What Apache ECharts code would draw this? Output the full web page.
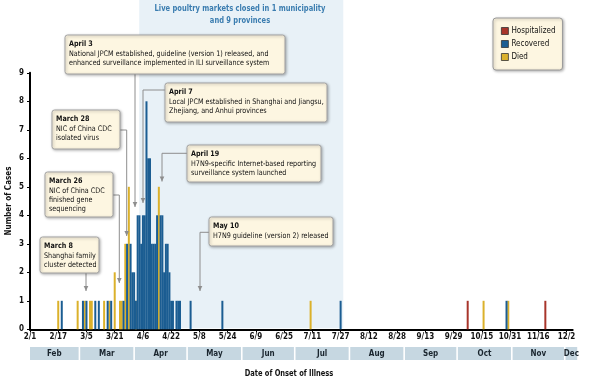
<!DOCTYPE html>
<html><head><meta charset="utf-8">
<script src="https://cdn.jsdelivr.net/npm/echarts/dist/echarts.min.js"></script>
<style>html,body{margin:0;padding:0;background:#fff}#main{width:601px;height:380px}</style>
</head><body><div id="main"></div>
<script>
// ---------- data ----------
const tickLabels = ['2/1','2/17','3/5','3/21','4/6','4/22','5/8','5/24','6/9','6/25','7/11','7/27','8/12','8/28','9/13','9/29','10/15','10/31','11/16','12/2'];
const tickDays = [0,16,32,48,64,80,96,112,128,144,160,176,192,208,224,240,256,272,288,304];
const months = ['Feb','Mar','Apr','May','Jun','Jul','Aug','Sep','Oct','Nov','Dec'];
const monthStartDays = [0,28,59,89,120,150,181,212,242,273,303,310.5];
// day index: 0 = Feb 1, 2013
const diedDays   = [16,27,31,34,35,42,45,48,51,52,54,56,60,73,159,257,271];
const diedCounts = [ 1, 1, 1, 1, 1, 1, 1, 2, 1, 1, 3, 5, 1, 5,  1,  1,  1];
const recoveredDays   = [18,30,32,37,39,44,46,53,55,57,58,59,60,61,62,63,64,65,66,67,68,69,70,71,72,74,75,76,77,78,79,80,81,83,84,85,91,109,176,270];
const recoveredCounts = [ 1, 1, 1, 1, 1, 1, 1, 1, 3, 3, 2, 2, 1, 4, 4, 3, 4, 4, 8, 6, 6, 3, 3, 3, 4, 4, 4, 2, 3, 3, 2, 1, 1, 1, 1, 1, 1,  1,  1,  1];
const hospitalizedDays   = [248,292];
const hospitalizedCounts = [  1,  1];
const closureDays = [61.9, 177.5];
const closureTitle = ['Live poultry markets closed in 1 municipality', 'and 9 provinces'];
const yAxisTitle = 'Number of Cases';
const xAxisTitle = 'Date of Onset of Illness';
const noteTitles = ['April 3','April 7','March 28','March 26','March 8','April 19','May 10'];
const noteLines = [
  ['National JPCM established, guideline (version 1) released, and','enhanced surveillance implemented in ILI surveillance system'],
  ['Local JPCM established in Shanghai and Jiangsu,','Zhejiang, and Anhui provinces'],
  ['NIC of China CDC','isolated virus'],
  ['NIC of China CDC','finished gene','sequencing'],
  ['Shanghai family','cluster detected'],
  ['H7N9-specific Internet-based reporting','surveillance system launched'],
  ['H7N9 guideline (version 2) released']
];
// ---------- layout ----------
const noteBoxes = [[65,35,220,39],[165,83,162,39],[52,110,68,39],[45,172,68,45],[40,237,59,36],[187,145,134,37],[209,217,124,29]];
const notePaths = [
  [[135,74],[135,207]],
  [[165,90],[143,90],[143,203]],
  [[120,130],[126.7,130],[126.7,236]],
  [[113,195],[119.3,195],[119.3,283]],
  [[86,273],[86,291]],
  [[187,153.3],[162,153.3],[162,181.5]],
  [[209,232.3],[200,232.3],[200,291]]
];
const FONT = "'Liberation Sans Narrow','DejaVu Sans Condensed',Lato,sans-serif";
const C_RED = '#a8352b', C_BLUE = '#1b5d92', C_YEL = '#dbb12b';

const pairs = (d, c) => d.map((x, i) => [x, c[i]]);
const chart = echarts.init(document.getElementById('main'), null, {renderer: 'canvas'});
const barBase = {type: 'bar', stack: 'cases', barWidth: 2, barGap: '-100%'};
chart.setOption({
  animation: false,
  textStyle: {fontFamily: FONT},
  grid: {left: 30, right: 28.3, top: 72.8, bottom: 50.7, containLabel: false, outerBoundsMode: 'none'},
  xAxis: {
    type: 'value', min: 0, max: 307.5,
    axisLine: {lineStyle: {color: '#000', width: 2}},
    axisTick: {show: true, customValues: tickDays, length: 3, lineStyle: {color: '#000', width: 1}},
    axisLabel: {customValues: tickDays, formatter: v => tickLabels[Math.round(v / 16)], fontSize: 8, fontWeight: 'bold', color: '#111', margin: 4, fontFamily: FONT},
    splitLine: {show: false}
  },
  yAxis: {
    type: 'value', min: 0, max: 9, interval: 1,
    axisLine: {show: true, lineStyle: {color: '#000', width: 2}},
    axisTick: {show: true, length: 3, lineStyle: {color: '#000', width: 1}},
    axisLabel: {fontSize: 8, fontWeight: 'bold', color: '#111', margin: 6, fontFamily: FONT},
    splitLine: {show: false}
  },
  legend: {
    data: ['Hospitalized', 'Recovered', 'Died'], orient: 'vertical', left: 493, top: 18,
    backgroundColor: '#fdf6e1', borderColor: '#9a9a9a', borderWidth: 1, borderRadius: 3,
    shadowBlur: 3, shadowColor: 'rgba(0,0,0,0.3)', shadowOffsetX: 1, shadowOffsetY: 1,
    padding: [9, 7, 9, 8], itemWidth: 7, itemHeight: 7, itemGap: 5, icon: 'rect',
    itemStyle: {borderColor: '#333', borderWidth: 0.8},
    textStyle: {fontSize: 8, color: '#111', fontFamily: FONT, padding: [0, 0, 0, -2]}
  },
  series: [
    Object.assign({name: 'Died', data: pairs(diedDays, diedCounts), itemStyle: {color: C_YEL}}, barBase),
    Object.assign({name: 'Recovered', data: pairs(recoveredDays, recoveredCounts), itemStyle: {color: C_BLUE}}, barBase),
    Object.assign({name: 'Hospitalized', data: pairs(hospitalizedDays, hospitalizedCounts), itemStyle: {color: C_RED}}, barBase)
  ]
});

const px = d => chart.convertToPixel({xAxisIndex: 0}, d);
const py = v => chart.convertToPixel({yAxisIndex: 0}, v);
const g = [];
const txt = (s, x, y, font, fill, sx, align, z) => ({type: 'text', z: z || 51, x: x, y: y, scaleX: sx,
  style: {text: s, x: 0, y: 0, align: align || 'left', verticalAlign: 'middle', fill: fill, font: font}});
// closure shading
const sx0 = px(closureDays[0]), sx1 = px(closureDays[1]), y0 = py(0);
g.push({type: 'rect', z: -10, silent: true, shape: {x: sx0, y: 0, width: sx1 - sx0, height: y0 - 1}, style: {fill: '#e8f1f7'}});
closureTitle.forEach((t, i) => g.push(txt(t, 240, 9 + i * 12, "bold 8.5px " + FONT, '#3b7db0', 0.88, 'center', 5)));
// axis titles
g.push({type: 'text', z: 6, x: 8.5, y: 201, rotation: Math.PI / 2,
  style: {text: yAxisTitle, x: 0, y: 0, align: 'center', verticalAlign: 'middle', fill: '#111', font: "bold 8px " + FONT}});
g.push(txt(xAxisTitle, 289, 373.5, "bold 8px " + FONT, '#111', 0.93, 'center', 6));
// month band
for (let i = 0; i < months.length; i++) {
  const a = px(monthStartDays[i]) + (i ? 0.8 : 0), b = px(monthStartDays[i + 1]) - 0.8;
  g.push({type: 'rect', z: 5, shape: {x: a, y: 347, width: b - a, height: 13}, style: {fill: '#c6d7e1'}});
  g.push(txt(months[i], (a + b) / 2, 353.8, "bold 8px " + FONT, '#1a252e', 1, 'center', 6));
}
// annotations
noteTitles.forEach((t, i) => {
  const [bx, by, bw, bh] = noteBoxes[i];
  const pts = notePaths[i];
  const tip = pts[pts.length - 1];
  g.push({type: 'polyline', z: 40, shape: {points: pts}, style: {stroke: '#8e8e8e', lineWidth: 1, fill: null}});
  g.push({type: 'polygon', z: 40, shape: {points: [[tip[0] - 2.3, tip[1] - 5], [tip[0] + 2.3, tip[1] - 5], [tip[0], tip[1]]]}, style: {fill: '#8e8e8e'}});
  g.push({type: 'rect', z: 50, shape: {x: bx, y: by, width: bw, height: bh, r: 2.5},
    style: {fill: '#fdf6e1', stroke: '#a3a3a3', lineWidth: 1, shadowBlur: 3, shadowColor: 'rgba(0,0,0,0.3)', shadowOffsetX: 1, shadowOffsetY: 1}});
  g.push(txt(t, bx + 4, by + 9.5, "bold 7.6px " + FONT, '#111', 0.94));
  noteLines[i].forEach((l, j) => g.push(txt(l, bx + 4, by + 9.5 + (j + 1) * 9.3, "7.6px " + FONT, '#111', 0.94)));
});
chart.setOption({graphic: g});
</script>
</body></html>
